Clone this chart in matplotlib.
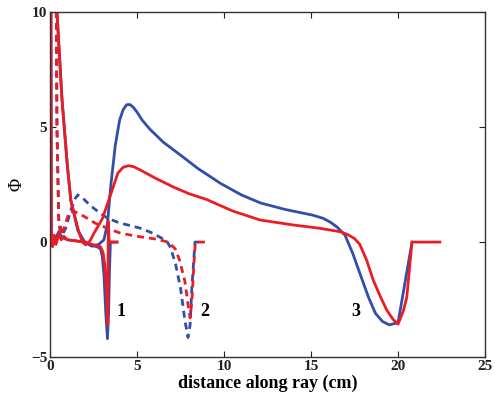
#!/usr/bin/env python
import matplotlib
matplotlib.use('Agg')
import matplotlib.pyplot as plt

# colours of the two methods
blue = '#2f4fa8'
red = '#ec1c24'

# ray 1 (solid, short)
x1_blue = [0.05, 0.08, 0.2, 0.35, 0.5, 0.7, 1.0, 1.5, 2.0, 2.4, 2.7, 2.9, 3.0, 3.1, 3.2, 3.3, 3.37, 3.42, 3.47, 3.85]
y1_blue = [12.0, 0.0, -0.1, 0.2, 0.45, 0.2, 0.1, 0.05, 0.0, -0.15, -0.2, -0.3, -0.6, -1.4, -3.0, -4.2, -3.0, -1.2, 0.0, 0.0]
x1_red = [0.05, 0.08, 0.15, 0.25, 0.35, 0.5, 0.65, 0.8, 1.0, 1.5, 2.0, 2.4, 2.7, 2.9, 3.05, 3.15, 3.25, 3.32, 3.35, 3.4, 3.85]
y1_red = [12.0, 0.0, -0.2, 0.3, -0.1, 0.35, 0.1, 0.25, 0.1, 0.05, 0.0, -0.1, -0.15, -0.2, -0.45, -1.0, -2.2, -3.6, 0.9, 0.0, 0.0]

# ray 2 (dashed)
x2_blue = [0.35, 0.4, 0.5, 0.7, 0.9, 1.2, 1.45, 1.6, 1.9, 2.3, 2.8, 3.3, 4.0, 4.6, 5.2, 5.8, 6.3, 6.7, 6.9,
           7.2, 7.5, 7.75, 7.93, 8.05, 8.15, 8.33, 8.8]
y2_blue = [12.0, 5.0, 1.0, 0.3, 0.6, 1.4, 1.9, 2.05, 1.9, 1.6, 1.3, 1.04, 0.83, 0.72, 0.6, 0.42, 0.22, 0.05, -0.2,
           -0.9, -2.0, -3.4, -4.15, -3.6, -2.0, 0.0, 0.0]
x2_red = [0.35, 0.4, 0.5, 0.6, 0.8, 1.1, 1.35, 1.7, 2.0, 2.6, 3.3, 4.0, 5.0, 6.1, 6.8, 7.2, 7.45, 7.75,
          7.95, 8.05, 8.15, 8.25, 8.35, 9.1]
y2_red = [12.0, 5.0, 1.0, 0.3, 0.6, 1.3, 1.35, 1.22, 1.1, 0.82, 0.6, 0.4, 0.25, 0.13, 0.0, -0.3, -0.8, -1.7,
          -2.8, -3.3, -2.6, -1.2, 0.0, 0.0]

# ray 3 (solid, long)
x3_blue = [0.35, 0.4, 0.69, 1.0, 1.2, 1.6, 2.0, 2.4, 2.8, 3.1, 3.3, 3.5, 3.75, 4.0, 4.2, 4.4, 4.6, 4.8,
           5.0, 5.3, 5.75, 6.5, 7.5, 8.5, 9.8, 11.0, 12.1, 13.5, 15.1, 15.7, 16.1, 16.5, 16.95, 17.4,
           17.8, 18.3, 18.7, 19.1, 19.5, 20.0, 20.8]
y3_blue = [12.0, 10.0, 6.2, 3.3, 1.8, 0.5, 0.0, -0.18, -0.1, 0.1, 0.8, 2.5, 4.2, 5.3, 5.75, 5.97, 5.98, 5.85,
           5.65, 5.3, 4.9, 4.35, 3.78, 3.2, 2.55, 2.05, 1.7, 1.42, 1.17, 1.03, 0.87, 0.65, 0.3, -0.5,
           -1.35, -2.4, -3.1, -3.45, -3.6, -3.5, 0.0]
x3_red = [0.35, 0.4, 0.69, 1.0, 1.2, 1.6, 1.85, 2.05, 2.3, 2.5, 3.0, 3.5, 3.9, 4.2, 4.5, 4.8, 5.2, 6.0,
          7.07, 8.0, 9.0, 10.5, 12.07, 14.0, 15.5, 16.67, 17.1, 17.5, 17.8, 18.2, 18.57, 19.0, 19.35,
          19.7, 20.0, 20.3, 20.5, 20.8, 22.4]
y3_red = [12.0, 10.0, 6.2, 3.3, 1.8, 0.6, 0.0, -0.12, 0.05, 0.35, 1.0, 2.1, 3.0, 3.25, 3.32, 3.28, 3.13, 2.8,
          2.4, 2.1, 1.85, 1.35, 0.96, 0.74, 0.6, 0.45, 0.33, 0.15, -0.1, -0.8, -1.65, -2.4, -2.96,
          -3.35, -3.57, -3.0, -2.4, 0.0, 0.0]

# ray labels
ray_labels = ['1', '2', '3']
label_x = [4.1, 8.9, 17.6]
label_y = [-3.0, -3.0, -3.0]

plt.rcParams['font.family'] = ['Liberation Serif', 'DejaVu Serif']

fig = plt.figure(figsize=(4.95, 4.03), dpi=100)
ax = fig.add_axes([0.101, 0.114, 0.879, 0.856])

lw = 2.0
dash = (0, (2.5, 1.8))
ax.plot(x1_blue, y1_blue, color=blue, lw=lw)
ax.plot(x2_blue, y2_blue, color=blue, lw=lw, linestyle=dash)
ax.plot(x3_blue, y3_blue, color=blue, lw=lw)
ax.plot(x1_red, y1_red, color=red, lw=lw)
ax.plot(x2_red, y2_red, color=red, lw=lw, linestyle=dash)
ax.plot(x3_red, y3_red, color=red, lw=lw)

for t, xx, yy in zip(ray_labels, label_x, label_y):
    ax.text(xx, yy, t, fontsize=13, fontweight='bold', ha='center', va='center')

ax.set_xlim(0, 25)
ax.set_ylim(-5, 10)
ax.set_xticks([0, 5, 10, 15, 20, 25])
ax.set_yticks([-5, 0, 5, 10])
ax.tick_params(direction='in', top=True, right=True, length=4, width=0.8, labelsize=11, pad=2, colors='#222222')
for lab in ax.get_xticklabels() + ax.get_yticklabels():
    lab.set_fontweight('bold')
for sp in ax.spines.values():
    sp.set_linewidth(1.0)
    sp.set_color('#333333')

ax.set_xlabel('distance along ray (cm)', fontsize=13, fontweight='bold', labelpad=1)
ax.set_ylabel('Φ', fontsize=13, labelpad=4)

fig.savefig('out.png', dpi=100)
